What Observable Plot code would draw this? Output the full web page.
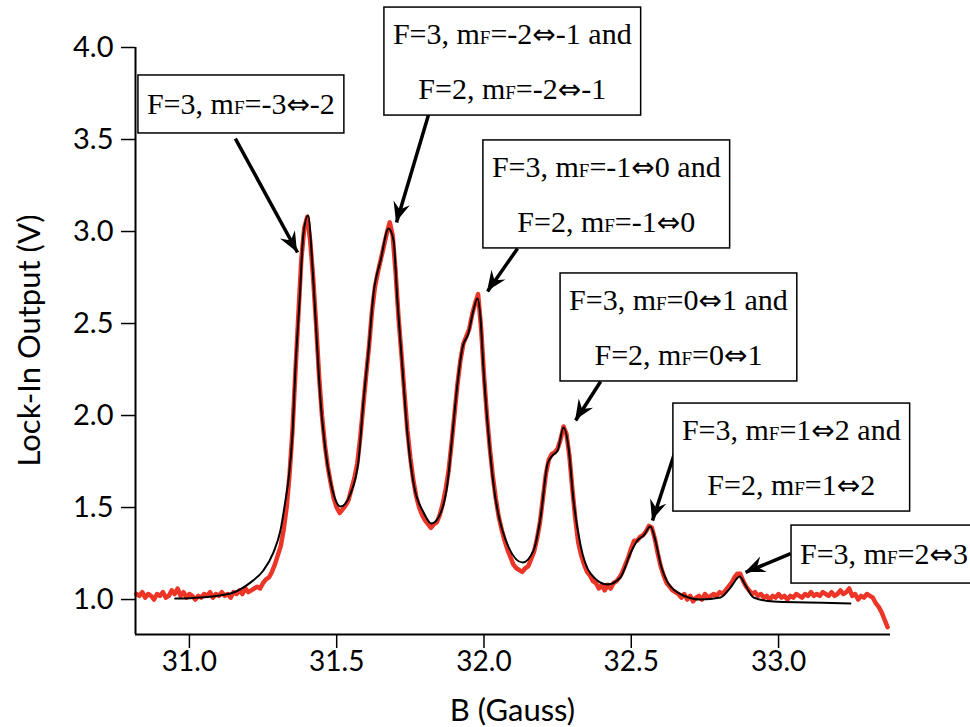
<!DOCTYPE html>
<html><head><meta charset="utf-8">
<script src="https://cdn.jsdelivr.net/npm/d3@7"></script>
<script src="https://cdn.jsdelivr.net/npm/@observablehq/plot@0.6"></script>
<style>
html,body{margin:0;padding:0;background:#fff;overflow:hidden}
#chart svg{display:block}
</style>
</head><body><div id="chart"></div>
<script>
// ---------- data ----------
const xDomain = [30.817, 33.38];
const yDomain = [0.81, 4.0];
const xTicks = [31.0, 31.5, 32.0, 32.5, 33.0];
const yTicks = [1.0, 1.5, 2.0, 2.5, 3.0, 3.5, 4.0];
const xLabel = "B (Gauss)";
const yLabel = "Lock-In Output (V)";

// measured trace (red), sampled every 0.01 G starting at 30.82 G
const redStart = 30.82;
const redStep = 0.01;
const redV = [
  1.03,1.02,1.04,1.01,1.03,1.02,1.00,1.03,1.02,1.04,
  1.01,1.02,1.05,1.03,1.06,1.02,1.04,1.01,1.03,1.02,
  1.00,1.02,1.01,1.03,1.02,1.04,1.01,1.03,1.02,1.04,
  1.02,1.03,1.01,1.04,1.03,1.05,1.03,1.06,1.04,
  1.05,1.06,1.07,1.06,1.09,1.11,1.12,1.15,1.19,1.24,
  1.29,1.38,1.50,1.68,1.92,2.24,2.55,2.85,3.02,3.08,
  2.95,2.75,2.50,2.22,2.00,1.84,1.72,1.63,1.55,1.50,
  1.47,1.49,1.51,1.54,1.60,1.66,1.74,1.88,2.05,2.22,
  2.38,2.57,2.70,2.78,2.85,2.92,2.99,3.05,2.98,2.78,
  2.53,2.33,2.12,1.92,1.77,1.65,1.56,1.50,1.46,1.43,
  1.41,1.39,1.41,1.42,1.46,1.52,1.60,1.70,1.85,2.01,
  2.17,2.30,2.39,2.43,2.47,2.55,2.61,2.66,2.48,2.22,
  2.00,1.82,1.67,1.55,1.45,1.38,1.32,1.27,1.23,1.19,
  1.17,1.16,1.15,1.17,1.18,1.22,1.26,1.33,1.42,1.55,
  1.68,1.76,1.79,1.80,1.82,1.87,1.94,1.90,1.78,1.60,
  1.44,1.31,1.24,1.19,1.15,1.13,1.10,1.09,1.06,1.08,
  1.05,1.08,1.06,1.09,1.10,1.12,1.15,1.19,1.23,1.28,
  1.32,1.32,1.34,1.35,1.37,1.40,1.39,1.33,1.25,1.18,
  1.13,1.09,1.07,1.05,1.04,1.03,1.01,1.03,1.00,1.02,
  0.99,1.01,1.02,1.00,1.03,1.01,1.02,1.03,1.02,1.04,
  1.03,1.05,1.07,1.09,1.12,1.14,1.14,1.10,1.07,1.05,
  1.03,1.04,1.02,1.03,1.01,1.02,1.00,1.02,1.01,1.03,
  1.01,1.02,1.00,1.02,1.01,1.03,1.02,1.01,1.03,1.02,
  1.04,1.02,1.03,1.02,1.04,1.03,1.02,1.04,1.02,1.03,
  1.05,1.03,1.04,1.06,1.02,1.03,1.00,1.02,1.01,1.03,
  1.02,1.01,0.98,0.96,0.93,0.89,0.85
];

// fit (black)
const fitB = [30.952,31.037,31.139,31.207,31.251,31.285,31.309,31.326,31.336,31.350,
  31.360,31.374,31.387,31.403,31.418,31.431,31.445,31.462,31.486,31.513,
  31.547,31.574,31.591,31.608,31.625,31.649,31.676,31.693,31.706,31.723,
  31.740,31.761,31.795,31.822,31.852,31.876,31.893,31.910,31.927,31.947,
  31.964,31.978,31.988,31.998,32.015,32.032,32.066,32.131,32.168,32.192,
  32.216,32.233,32.250,32.270,32.287,32.304,32.328,32.362,32.419,32.463,
  32.497,32.521,32.542,32.565,32.582,32.599,32.626,32.677,32.735,32.803,
  32.837,32.868,32.888,32.915,32.983,33.098,33.244];
const fitV = [1.005,1.011,1.033,1.092,1.158,1.255,1.375,1.538,1.647,1.902,
  2.261,2.625,2.989,3.087,2.804,2.446,2.082,1.810,1.592,1.505,
  1.576,1.755,2.082,2.353,2.663,2.842,3.016,2.951,2.625,2.261,
  1.902,1.630,1.473,1.413,1.467,1.630,1.902,2.174,2.370,2.446,
  2.571,2.636,2.533,2.261,1.902,1.630,1.359,1.201,1.266,1.446,
  1.739,1.783,1.810,1.935,1.826,1.538,1.293,1.141,1.082,1.120,
  1.250,1.321,1.348,1.397,1.321,1.196,1.087,1.022,1.000,1.011,
  1.065,1.125,1.076,1.011,0.989,0.984,0.978];

// annotations
const annLines = [
  ["F=3, mF=-3⇔-2"],
  ["F=3, mF=-2⇔-1 and", "F=2, mF=-2⇔-1"],
  ["F=3, mF=-1⇔0 and", "F=2, mF=-1⇔0"],
  ["F=3, mF=0⇔1 and", "F=2, mF=0⇔1"],
  ["F=3, mF=1⇔2 and", "F=2, mF=1⇔2"],
  ["F=3, mF=2⇔3"]
];
const annLeftB = [30.827, 31.662, 31.998, 32.260, 32.643, 33.044];
const annTopV  = [3.848, 4.217, 3.495, 2.772, 2.065, 1.402];
const arrowFromB = [31.156, 31.812, 32.114, 32.396, 32.650, 33.041];
const arrowFromV = [3.505, 3.636, 2.908, 2.185, 1.810, 1.250];
const arrowToB   = [31.367, 31.703, 32.012, 32.311, 32.572, 32.888];
const arrowToV   = [2.886, 3.049, 2.674, 1.973, 1.429, 1.147];

// ---------- build tables ----------
const red = redV.map((v, i) => ({B: redStart + i * redStep, V: v}));
const fit = fitB.map((b, i) => ({B: b, V: fitV[i]}));
const arrows = arrowFromB.map((b, i) => ({x1: b, y1: arrowFromV[i], x2: arrowToB[i], y2: arrowToV[i]}));

const sans = "Lato, 'DejaVu Sans', sans-serif";
const plot = Plot.plot({
  width: 970, height: 727,
  marginLeft: 135, marginRight: 80, marginTop: 47, marginBottom: 93,
  style: {fontFamily: sans, fontSize: "28px", color: "black", background: "white"},
  x: {domain: xDomain},
  y: {domain: yDomain},
  marks: [
    Plot.line(red, {x: "B", y: "V", stroke: "#ec3526", strokeWidth: 4.5}),
    Plot.line(fit, {x: "B", y: "V", stroke: "black", strokeWidth: 2, curve: "monotone-x"}),
    Plot.ruleX([xDomain[0]], {stroke: "black", strokeWidth: 2}),
    Plot.ruleY([yDomain[0]], {stroke: "black", strokeWidth: 2}),
    Plot.axisX({ticks: xTicks, tickFormat: d3.format(".1f"), tickSize: 14, tickPadding: 3, strokeWidth: 1.5, fontSize: 28, label: null}),
    Plot.axisY({ticks: yTicks, tickFormat: d3.format(".1f"), tickSize: 14, tickPadding: 8, strokeWidth: 1.5, fontSize: 29, label: null}),
    Plot.link(arrows, {x1: "x1", y1: "y1", x2: "x2", y2: "y2", stroke: "black", strokeWidth: 3.5})
  ]
});
document.getElementById("chart").appendChild(plot);

// ---------- axis titles, arrow heads & annotation boxes ----------
const svg = d3.select(plot);
const sx = plot.scale("x"), sy = plot.scale("y");
const [x0, x1] = sx.range;
const [y0, y1] = sy.range;

svg.append("text")
  .attr("x", (x0 + x1) / 2).attr("y", 721)
  .attr("text-anchor", "middle")
  .style("font-family", sans).style("font-size", "31px")
  .text(xLabel);
svg.append("text")
  .attr("transform", `translate(40,${(y0 + y1) / 2}) rotate(-90)`)
  .attr("text-anchor", "middle")
  .style("font-family", sans).style("font-size", "31px")
  .text(yLabel);

// filled, barbed arrow heads at each arrow tip
arrows.forEach(a => {
  const ax = sx.apply(a.x1), ay = sy.apply(a.y1);
  const bx = sx.apply(a.x2), by = sy.apply(a.y2);
  const len = Math.hypot(bx - ax, by - ay);
  const ux = (bx - ax) / len, uy = (by - ay) / len;
  const px = -uy, py = ux;
  const L = 20, W = 8.5, N = 13;
  const pts = [
    [bx, by],
    [bx - L * ux + W * px, by - L * uy + W * py],
    [bx - N * ux, by - N * uy],
    [bx - L * ux - W * px, by - L * uy - W * py]
  ];
  svg.append("polygon").attr("points", pts.map(p => p.join(",")).join(" ")).attr("fill", "black");
});

const serif = "'Liberation Serif', 'DejaVu Serif', serif";
annLines.forEach((lines, k) => {
  const left = sx.apply(annLeftB[k]);
  const top = sy.apply(annTopV[k]);
  const n = lines.length;
  const g = svg.append("g");
  const rect = g.append("rect");
  const texts = lines.map((line, i) => {
    const t = g.append("text")
      .attr("y", top + (n === 1 ? 39 : 37) + i * 55)
      .attr("text-anchor", "middle")
      .style("font-family", serif).style("font-size", "30px").attr("fill", "black");
    const parts = line.split("mF");
    parts.forEach((p, j) => {
      if (j > 0) {
        t.append("tspan").text("m");
        t.append("tspan").style("font-size", "19px").text("F");
      }
      p.split("⇔").forEach((q, m) => {
        if (m > 0) t.append("tspan").style("font-family", "'DejaVu Sans', sans-serif").style("font-size", "28px").text("⇔");
        if (q) t.append("tspan").text(q);
      });
    });
    return t;
  });
  const w = Math.max(...texts.map(t => t.node().getComputedTextLength()));
  const pad = 9;
  const bw = w + 2 * pad;
  const bh = n === 1 ? 58 : 108;
  texts.forEach(t => t.attr("x", left + bw / 2));
  rect.attr("x", left).attr("y", top).attr("width", bw).attr("height", bh)
    .attr("fill", "white").attr("stroke", "black").attr("stroke-width", 1.5);
});
</script>
</body></html>
